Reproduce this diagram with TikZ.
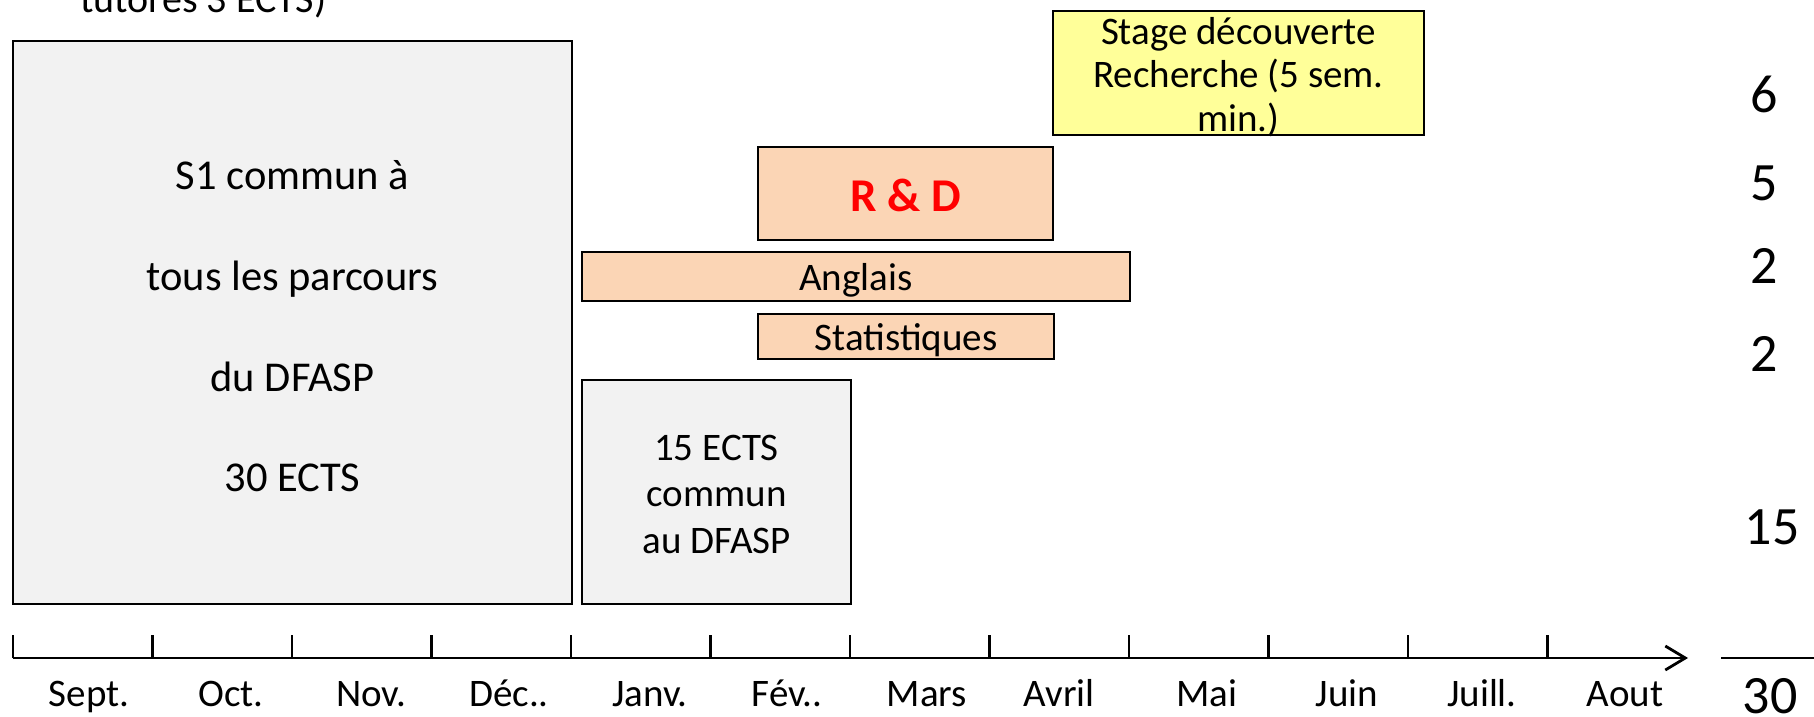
\documentclass[tikz,border=0pt]{standalone}
\usepackage{fontspec}
\setmainfont{Carlito}
\usetikzlibrary{arrows.meta}
\definecolor{boxgray}{HTML}{F2F2F2}
\definecolor{peach}{HTML}{FBD5B5}
\definecolor{paleyellow}{HTML}{FFFF99}
\begin{document}
\begin{tikzpicture}[x=1pt,y=-1pt,
  box/.style={draw=black, line width=2.5pt, inner sep=0pt},
  graybox/.style={box, fill=boxgray},
  peachbox/.style={box, fill=peach},
  yellowbox/.style={box, fill=paleyellow},
  boxtext/.style={inner sep=0pt, align=center, yshift=-4pt,
    font=\fontsize{39}{45}\selectfont},
  axisline/.style={draw=black, line width=2.8pt},
  tickline/.style={draw=black, line width=2.2pt},
  month/.style={anchor=base, font=\fontsize{39}{45}\selectfont, inner sep=0pt},
  ects/.style={anchor=base, font=\fontsize{54}{60}\selectfont, inner sep=0pt},
  sumline/.style={draw=black, line width=2pt}]
\useasboundingbox (0,0) rectangle (1814,717);

% cut text at top
\node[anchor=base west, inner sep=0pt, font=\fontsize{40}{48}\selectfont] (toptext) at (80,13) {tutorés 3 ECTS)};

% boxes
\node[graybox, minimum width=559pt, minimum height=563pt] (s1) at (292.5,322.5) {};
\node[boxtext, font=\fontsize{42.5}{100.7}\selectfont] (s1t) at (s1.center)
      {S1 commun à\\tous les parcours\\du DFASP\\30 ECTS};
\node[graybox, minimum width=269pt, minimum height=224pt] (commun) at (716.5,492) {};
\node[boxtext, font=\fontsize{39}{46.5}\selectfont, yshift=2pt] (communt) at (commun.center)
      {15 ECTS\\commun\\au DFASP};
\node[yellowbox, minimum width=371pt, minimum height=124pt] (stage) at (1238.5,73) {};
\node[boxtext, font=\fontsize{39}{43.5}\selectfont] (staget) at (stage.center)
      {Stage découverte\\Recherche (5 sem.\\min.)};
\node[peachbox, minimum width=295pt, minimum height=93pt] (rd) at (905.5,193.5) {};
\node[boxtext, font=\fontsize{47}{52}\selectfont\bfseries, text=red, yshift=2pt] (rdt) at (rd.center) {R \& D};
\node[peachbox, minimum width=548pt, minimum height=49pt] (anglais) at (856,276.5) {};
\node[boxtext] (anglaist) at (anglais.center) {Anglais};
\node[peachbox, minimum width=296pt, minimum height=45pt] (stats) at (906,336.5) {};
\node[boxtext] (statst) at (stats.center) {Statistiques};

% axis
\coordinate (a0) at (13,658);
\coordinate (aend) at (1688,658);
\draw[axisline, -{Straight Barb[length=20pt,width=24pt,line width=2.8pt]}] (a0) -- (aend);
\foreach \i in {0,...,11} {
  \coordinate (t\i) at ({13+139.5*\i},658);
  \coordinate (u\i) at ({13+139.5*\i},635);
  \draw[tickline] (t\i) -- (u\i);
}

% months
\node[month] (m1) at (89,706) {Sept.};
\node[month] (m2) at (231,706) {Oct.};
\node[month] (m3) at (371,706) {Nov.};
\node[month] (m4) at (509,706) {Déc..};
\node[month] (m5) at (650,706) {Janv.};
\node[month] (m6) at (787,706) {Fév..};
\node[month] (m7) at (927,706) {Mars};
\node[month] (m8) at (1059,706) {Avril};
\node[month] (m9) at (1207,706) {Mai};
\node[month] (m10) at (1347,706) {Juin};
\node[month] (m11) at (1482,706) {Juill.};
\node[month] (m12) at (1625,706) {Aout};

% ECTS column
\node[ects] (e6) at (1764,112) {6};
\node[ects] (e5) at (1764,200) {5};
\node[ects] (e2a) at (1764,283) {2};
\node[ects] (e2b) at (1764,371) {2};
\node[ects] (e15) at (1772,544) {15};
\coordinate (s0) at (1721,658);
\coordinate (s1e) at (1814,658);
\draw[sumline] (s0) -- (s1e);
\node[ects] (e30) at (1770,713) {30};
\end{tikzpicture}
\end{document}
